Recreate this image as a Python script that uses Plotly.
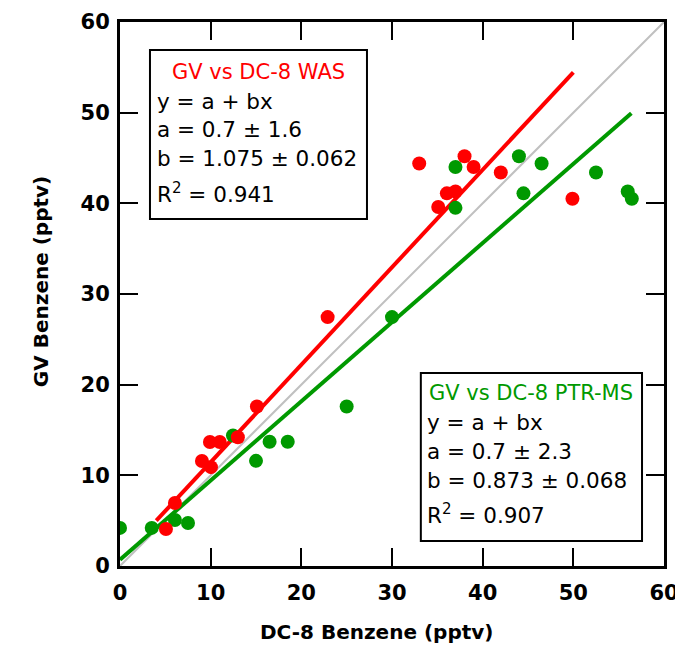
import plotly.graph_objects as go

# ---- data ----
was_x = [5.07, 6.06, 9.04, 10.03, 9.92, 11.0, 13.0, 15.1, 22.9, 33.0, 35.1, 36.05, 37.0, 38.0, 39.0, 42.0, 49.9]
was_y = [4.08, 6.95, 11.58, 10.9, 13.67, 13.67, 14.2, 17.6, 27.45, 44.4, 39.6, 41.1, 41.3, 45.2, 44.0, 43.4, 40.5]

ptr_x = [0.0, 3.5, 6.06, 7.5, 12.46, 15.0, 16.5, 18.5, 25.0, 30.0, 37.0, 37.0, 44.0, 44.5, 46.5, 52.5, 56.0, 56.45]
ptr_y = [4.2, 4.2, 5.07, 4.74, 14.4, 11.6, 13.7, 13.7, 17.6, 27.45, 39.5, 44.0, 45.2, 41.1, 44.4, 43.4, 41.3, 40.5]

# fit coefficients (y = a + b x) and fitted x ranges
was_fit = {"a": 0.7, "b": 1.075, "xrange": [4.0, 50.0]}
ptr_fit = {"a": 0.7, "b": 0.873, "xrange": [0.0, 56.4]}
one_to_one = [0, 60]

was_text = ["GV vs DC-8 WAS", "y = a + bx", "a = 0.7 ± 1.6", "b = 1.075 ± 0.062", "R<sup>2</sup> = 0.941"]
ptr_text = ["GV vs DC-8 PTR-MS", "y = a + bx", "a = 0.7 ± 2.3", "b = 0.873 ± 0.068", "R<sup>2</sup> = 0.907"]

tick_vals = [0, 10, 20, 30, 40, 50, 60]

RED = "#ff0000"
GREEN = "#009900"
FONT = "DejaVu Sans"

def fit_line(f):
    xs = f["xrange"]
    return xs, [f["a"] + f["b"] * x for x in xs]

fig = go.Figure()
fig.add_trace(go.Scatter(x=one_to_one, y=one_to_one, mode="lines",
                         line=dict(color="#c0c0c0", width=2), showlegend=False))
gx, gy = fit_line(ptr_fit)
fig.add_trace(go.Scatter(x=gx, y=gy, mode="lines", line=dict(color=GREEN, width=4), showlegend=False))
rx, ry = fit_line(was_fit)
fig.add_trace(go.Scatter(x=rx, y=ry, mode="lines", line=dict(color=RED, width=4), showlegend=False))
fig.add_trace(go.Scatter(x=ptr_x, y=ptr_y, mode="markers",
                         marker=dict(color=GREEN, size=14, line=dict(width=0)), showlegend=False))
fig.add_trace(go.Scatter(x=was_x, y=was_y, mode="markers",
                         marker=dict(color=RED, size=14, line=dict(width=0)), showlegend=False))

axis_common = dict(range=[0, 60], tickvals=tick_vals, ticks="inside", ticklen=18, tickwidth=2,
                   tickcolor="black", showline=True, linewidth=3, linecolor="black",
                   mirror="ticks", showgrid=False, zeroline=False, automargin=False,
                   tickfont=dict(family=FONT, size=21, color="black", weight=600))

# the page body adds an 8px offset, so the figure is 8px smaller on each axis
fig.update_layout(
    width=675, height=641,
    margin=dict(l=112, r=19, t=14, b=83),
    paper_bgcolor="white", plot_bgcolor="white",
    xaxis=dict(**axis_common, ticklabelstandoff=6),
    yaxis=dict(**axis_common, ticklabelstandoff=3),
)

# text boxes
fig.add_shape(type="rect", xref="paper", yref="paper", x0=0.0551, x1=0.454, y0=0.638, y1=0.9485,
              line=dict(color="black", width=2), fillcolor="white", layer="above")
fig.add_shape(type="rect", xref="paper", yref="paper", x0=0.553, x1=0.9596, y0=0.046, y1=0.3548,
              line=dict(color="black", width=2), fillcolor="white", layer="above")

def add_box_text(lines, color, title_x, left_x, ys):
    fig.add_annotation(xref="paper", yref="paper", x=title_x, y=ys[0], text=lines[0],
                       showarrow=False, xanchor="center", yanchor="middle",
                       font=dict(family=FONT, size=21, color=color))
    for t, yy in zip(lines[1:], ys[1:]):
        fig.add_annotation(xref="paper", yref="paper", x=left_x, y=yy, text=t,
                           showarrow=False, xanchor="left", yanchor="middle",
                           font=dict(family=FONT, size=21.5, color="black"))

add_box_text(was_text, RED, 0.2537, 0.064, [0.908, 0.853, 0.8015, 0.75, 0.685])
add_box_text(ptr_text, GREEN, 0.7555, 0.5605, [0.318, 0.2629, 0.2096, 0.158, 0.095])

# axis titles
fig.add_annotation(xref="paper", yref="paper", x=0.472, y=-0.121, text="DC-8 Benzene (pptv)",
                   showarrow=False, xanchor="center", yanchor="middle",
                   font=dict(family=FONT, size=20, color="black", weight=600))
fig.add_annotation(xref="paper", yref="paper", x=-0.145, y=0.522, text="GV Benzene (pptv)",
                   showarrow=False, xanchor="center", yanchor="middle", textangle=-90,
                   font=dict(family=FONT, size=20, color="black", weight=600))

fig.write_html("out.html")
